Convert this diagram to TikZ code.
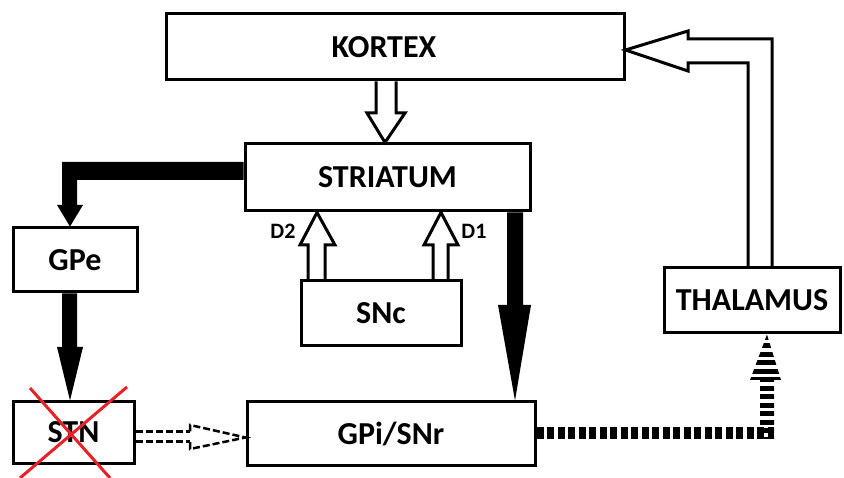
\documentclass[tikz,border=0pt]{standalone}
\usepackage{fontspec}
\setmainfont{Carlito}
\definecolor{xred}{RGB}{232,32,40}
\begin{document}
\begin{tikzpicture}[x=1pt,y=-1pt,
  box/.style={draw,line width=3pt,rectangle,inner sep=0pt,font=\fontsize{32}{32}\selectfont\bfseries},
  hollow/.style={draw,line width=3pt,line join=miter},
  solidarrow/.style={fill=black},
  dasharrow/.style={draw,line width=2.5pt,dash pattern=on 7pt off 3pt},
  lab/.style={font=\fontsize{22}{22}\selectfont\bfseries,inner sep=0pt},
  cross/.style={draw=xred,line width=3pt}]
\useasboundingbox (0,0) rectangle (844,478);
% boxes
\node[box,minimum width=458,minimum height=66] (kortex) at (395,47) {KORTEX\hspace*{22pt}};
\node[box,minimum width=285,minimum height=67] (striatum) at (387.5,177.5) {STRIATUM};
\node[box,minimum width=124,minimum height=64] (gpe) at (75,260) {GPe};
\node[box,minimum width=160,minimum height=65] (snc) at (381,313.5) {SNc};
\node[box,minimum width=121,minimum height=61] (stn) at (73.5,432.5) {STN};
\node[box,minimum width=288,minimum height=63] (gpi) at (391,433.5) {GPi/SNr};
\node[box,minimum width=176,minimum height=65] (thal) at (752,300.5) {THALAMUS};
% Kortex -> Striatum
\draw[hollow] ([xshift=-19]kortex.south) -- (376,113) -- (367,113) -- ([xshift=-2.5]striatum.north)
  -- (405,113) -- (396,113) -- ([xshift=1]kortex.south);
% SNc -> Striatum (D2, D1)
\draw[hollow] ([xshift=-73]snc.north) -- (308,245) -- (300,245) -- ([xshift=-70.5]striatum.south)
  -- (335,245) -- (325,245) -- ([xshift=-56]snc.north);
\draw[hollow] ([xshift=52]snc.north) -- (433,245) -- (424,245) -- ([xshift=53.5]striatum.south)
  -- (458,245) -- (448,245) -- ([xshift=67]snc.north);
\node[lab] (d2) at (283,231) {D2};
\node[lab] (d1) at (474,231) {D1};
% Striatum -> GPe
\fill ([yshift=15.5]striatum.west) -- (62,162) -- (62,205) -- (57,205) -- ([xshift=-5]gpe.north)
  -- (83,205) -- (77,205) -- (77,180) -- ([yshift=-2.5]striatum.west) -- cycle;
% GPe -> STN
\fill ([xshift=-13]gpe.south) -- (62,347) -- (57,347) -- ([xshift=-3.5]stn.north)
  -- (83,347) -- (77,347) -- ([xshift=2]gpe.south) -- cycle;
% Striatum -> GPi
\fill ([xshift=119.5]striatum.south) -- (507,305) -- (498,305) -- ([xshift=124]gpi.north)
  -- (531,305) -- (523,305) -- ([xshift=135.5]striatum.south) -- cycle;
% STN -> GPi (dashed hollow)
\draw[dasharrow] ([yshift=1]stn.east) -- (190,431.5);
\draw[dasharrow] ([yshift=-9]stn.east) -- (190,441.5);
\draw[dasharrow] (190,431.5) -- (190,425) -- ([yshift=-4]gpi.west) -- (190,449) -- (190,441.5);
% GPi -> Thalamus (striped)
\draw[line width=12pt,dash pattern=on 7pt off 3.5pt] (gpi.east) -- (774,433.5);
\begin{scope}
  \clip (760,439) -- (760,380) -- (750,380) -- ([xshift=15]thal.south) -- (781,380) -- (774,380) -- (774,439) -- cycle;
  \foreach \yy in {335,343.5,...,440} \fill (740,\yy) rectangle (800,\yy+5);
\end{scope}
% Thalamus -> Kortex
\draw[hollow] ([xshift=20]thal.north) -- (772,39) -- (688,39) -- (688,31) -- ([yshift=-3]kortex.east)
  -- (688,71) -- (688,63) -- (748,63) -- ([xshift=-4]thal.north);
% red cross over STN
\draw[cross] (30,388) -- (110,478);
\draw[cross] (127,387) -- (20,478);
\end{tikzpicture}
\end{document}
